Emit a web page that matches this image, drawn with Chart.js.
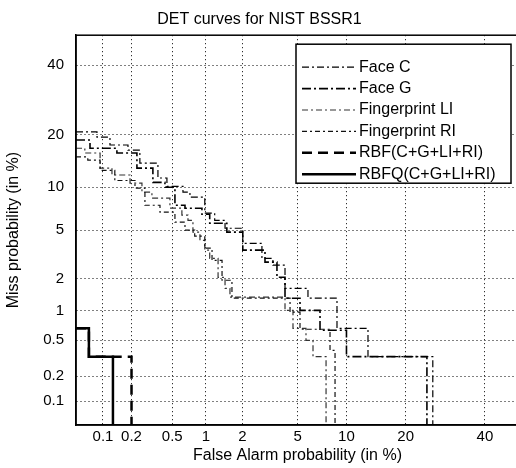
<!DOCTYPE html>
<html><head><meta charset="utf-8">
<script src="https://cdn.jsdelivr.net/npm/chart.js@4.4.1/dist/chart.umd.min.js"></script>
<style>
html,body{margin:0;padding:0;background:#fff;overflow:hidden;}
#wrap{width:519px;height:468px;}
</style></head><body>
<div id="wrap"><canvas id="c" width="519" height="468"></canvas></div>
<script>
// ---- data (percent) ----
const tickValues = [0.1, 0.2, 0.5, 1, 2, 5, 10, 20, 40];
const axisMin = 0.05, axisMax = 50;
const seriesLabels = ['Face C', 'Face G', 'Fingerprint LI', 'Fingerprint RI', 'RBF(C+G+LI+RI)', 'RBFQ(C+G+LI+RI)'];

const faceC_fa   = [0.05, 0.086, 0.119, 0.184, 0.243, 0.366, 0.446, 0.628, 0.726, 0.98, 1.19, 1.45, 2.01, 2.81, 3.38, 4.11, 5.85, 8.82, 13.1, 26.1];
const faceC_miss = [20.7, 19.5, 17.7, 16.6, 14.0, 11.4, 10.1, 9.26, 8.58, 6.65, 5.91, 5.16, 3.95, 2.98, 2.61, 1.63, 1.32, 0.667, 0.333, 0.05];

const faceG_fa   = [0.05, 0.072, 0.141, 0.227, 0.327, 0.427, 0.53, 0.655, 0.926, 1.08, 1.50, 2.01, 2.96, 3.61, 4.11, 5.19, 6.97, 10.0, 24.7];
const faceG_miss = [18.8, 17.0, 16.0, 13.1, 10.7, 9.97, 7.56, 7.21, 6.54, 5.62, 4.82, 3.48, 2.77, 2.05, 1.32, 1.01, 0.637, 0.333, 0.05];

const fpLI_fa   = [0.05, 0.063, 0.093, 0.125, 0.193, 0.255, 0.320, 0.476, 0.614, 0.697, 0.772, 0.89, 0.98, 1.08, 1.27, 1.45, 1.59, 4.11, 4.66, 5.68, 6.30, 7.59];
const fpLI_miss = [17.0, 16.0, 13.1, 11.9, 10.6, 9.26, 8.45, 7.21, 6.43, 5.91, 4.82, 4.17, 3.48, 2.98, 2.05, 1.63, 1.35, 1.01, 0.667, 0.50, 0.333, 0.05];

const fpRI_fa   = [0.05, 0.068, 0.093, 0.134, 0.217, 0.273, 0.383, 0.53, 0.655, 0.80, 0.98, 1.13, 1.37, 1.65, 4.45, 5.19, 8.02, 8.59];
const fpRI_miss = [15.2, 14.6, 12.7, 11.0, 9.83, 7.56, 6.76, 5.72, 4.99, 4.49, 3.61, 2.87, 1.93, 1.32, 0.97, 0.653, 0.39, 0.05];

const rbf_fa    = [0.05, 0.07, 0.2];
const rbf_miss  = [0.667, 0.333, 0.05];
const rbfq_fa   = [0.05, 0.07, 0.128];
const rbfq_miss = [0.667, 0.333, 0.05];

// ---- normal deviate (probit) scale ----
function probit(p) {
  const a=[-3.969683028665376e+01,2.209460984245205e+02,-2.759285104469687e+02,1.383577518672690e+02,-3.066479806614716e+01,2.506628277459239e+00];
  const b=[-5.447609879822406e+01,1.615858368580409e+02,-1.556989798598866e+02,6.680131188771972e+01,-1.328068155288572e+01];
  const c=[-7.784894002430293e-03,-3.223964580411365e-01,-2.400758277161838e+00,-2.549732539343734e+00,4.374664141464968e+00,2.938163982698783e+00];
  const d=[7.784695709041462e-03,3.224671290700398e-01,2.445134137142996e+00,3.754408661907416e+00];
  if (p <= 0) return -8; if (p >= 1) return 8;
  const pl = 0.02425, ph = 1 - pl; let q, r;
  if (p < pl) { q = Math.sqrt(-2*Math.log(p)); return (((((c[0]*q+c[1])*q+c[2])*q+c[3])*q+c[4])*q+c[5])/((((d[0]*q+d[1])*q+d[2])*q+d[3])*q+1); }
  if (p <= ph) { q = p-0.5; r = q*q; return (((((a[0]*r+a[1])*r+a[2])*r+a[3])*r+a[4])*r+a[5])*q/(((((b[0]*r+b[1])*r+b[2])*r+b[3])*r+b[4])*r+1); }
  q = Math.sqrt(-2*Math.log(1-p)); return -(((((c[0]*q+c[1])*q+c[2])*q+c[3])*q+c[4])*q+c[5])/((((d[0]*q+d[1])*q+d[2])*q+d[3])*q+1);
}
function normcdf(z) {
  const t = 1/(1+0.2316419*Math.abs(z));
  const y = 0.3989423*Math.exp(-z*z/2)*t*(0.3193815+t*(-0.3565638+t*(1.781478+t*(-1.821256+t*1.330274))));
  return z > 0 ? 1-y : y;
}
class ProbitScale extends Chart.Scale {
  determineDataLimits() { this.min = this.options.min; this.max = this.options.max; }
  buildTicks() { return []; }
  getLabelForValue(v) { return String(v); }
  configure() { super.configure(); this._zMin = probit(this.min/100); this._zMax = probit(this.max/100); }
  getPixelForValue(v) { return this.getPixelForDecimal((probit(v/100) - this._zMin) / (this._zMax - this._zMin)); }
  getValueForPixel(px) { return normcdf(this._zMin + this.getDecimalForPixel(px)*(this._zMax - this._zMin))*100; }
}
ProbitScale.id = 'probit';
ProbitScale.defaults = {};
Chart.register(ProbitScale);

const pts = (xs, ys) => xs.map((x, i) => ({x: x, y: ys[i]}));

const FONT = "'Liberation Sans', Arial, Helvetica, sans-serif";
Chart.defaults.font.family = FONT;
Chart.defaults.color = '#000';

const styles = [
  {borderColor:'#000', borderWidth:1.2, borderDash:[7,3,2,3]},
  {borderColor:'#000', borderWidth:1.6, borderDash:[9,3,2,3]},
  {borderColor:'#333', borderWidth:1.2, borderDash:[6,3,2,3]},
  {borderColor:'#111', borderWidth:1.2, borderDash:[5,3,2,3]},
  {borderColor:'#000', borderWidth:2.5, borderDash:[10,6]},
  {borderColor:'#000', borderWidth:2.5, borderDash:[]}
];
const series = [
  pts(faceC_fa, faceC_miss), pts(faceG_fa, faceG_miss), pts(fpLI_fa, fpLI_miss),
  pts(fpRI_fa, fpRI_miss), pts(rbf_fa, rbf_miss), pts(rbfq_fa, rbfq_miss)
];
const datasets = series.map((data, i) => Object.assign({
  label: seriesLabels[i], data: data, stepped: 'before', pointRadius: 0, fill: false,
  tension: 0, order: 10 - i
}, styles[i]));

const frameLegend = {
  id: 'frameLegend',
  afterDatasetsDraw(chart) {
    const ctx = chart.ctx, ca = chart.chartArea;
    ctx.save();
    ctx.strokeStyle = '#000'; ctx.lineWidth = 1.5; ctx.setLineDash([]);
    ctx.strokeRect(ca.left, ca.top, ca.right - ca.left, ca.bottom - ca.top);
    // legend box
    const x0 = ca.left + 220, y0 = ca.top + 9, w = 215, h = 139;
    ctx.fillStyle = '#fff'; ctx.fillRect(x0, y0, w, h);
    ctx.lineWidth = 1.5; ctx.strokeRect(x0, y0, w, h);
    ctx.font = '16px ' + FONT; ctx.textBaseline = 'middle'; ctx.textAlign = 'left';
    chart.data.datasets.forEach((ds, i) => {
      const y = y0 + 23 + i*21.4;
      ctx.beginPath();
      ctx.strokeStyle = ds.borderColor; ctx.lineWidth = ds.borderWidth;
      ctx.setLineDash(ds.borderDash || []);
      ctx.moveTo(x0 + 6, y); ctx.lineTo(x0 + 60, y); ctx.stroke();
      ctx.setLineDash([]);
      ctx.fillStyle = '#000';
      ctx.fillText(ds.label, x0 + 63, y);
    });
    ctx.restore();
  }
};

const scaleCommon = {
  type: 'probit', min: axisMin, max: axisMax,
  afterBuildTicks: (s) => { s.ticks = tickValues.map(v => ({value: v})); },
  grid: { color: '#000', lineWidth: 1, drawTicks: false },
  border: { display: true, color: '#000', width: 1.5, dash: [1, 3] }
};

new Chart(document.getElementById('c'), {
  type: 'line',
  data: { datasets: datasets },
  options: {
    responsive: false, animation: false, devicePixelRatio: 1,
    layout: { padding: 0 },
    plugins: {
      legend: { display: false }, tooltip: { enabled: false },
      title: { display: true, text: 'DET curves for NIST BSSR1', color: '#000',
               font: { size: 16, weight: 'normal' }, padding: { top: 10, bottom: 6 } }
    },
    scales: {
      x: Object.assign({}, scaleCommon, {
        position: 'bottom',
        ticks: { autoSkip: false, maxRotation: 0, padding: 3, font: { size: 15 }, callback: (v) => String(v) },
        title: { display: true, text: 'False Alarm probability (in %)', font: { size: 16 }, padding: { top: 0, bottom: 3 } },
        afterFit: (s) => { s.height = 43; }
      }),
      y: Object.assign({}, scaleCommon, {
        position: 'left',
        ticks: { autoSkip: false, padding: 12, font: { size: 15 }, callback: (v) => String(v) },
        title: { display: true, text: 'Miss probability (in %)', font: { size: 16 }, padding: { top: 4, bottom: 0 } },
        afterFit: (s) => { s.width = 76; }
      })
    }
  },
  plugins: [frameLegend]
});
</script>
</body></html>
